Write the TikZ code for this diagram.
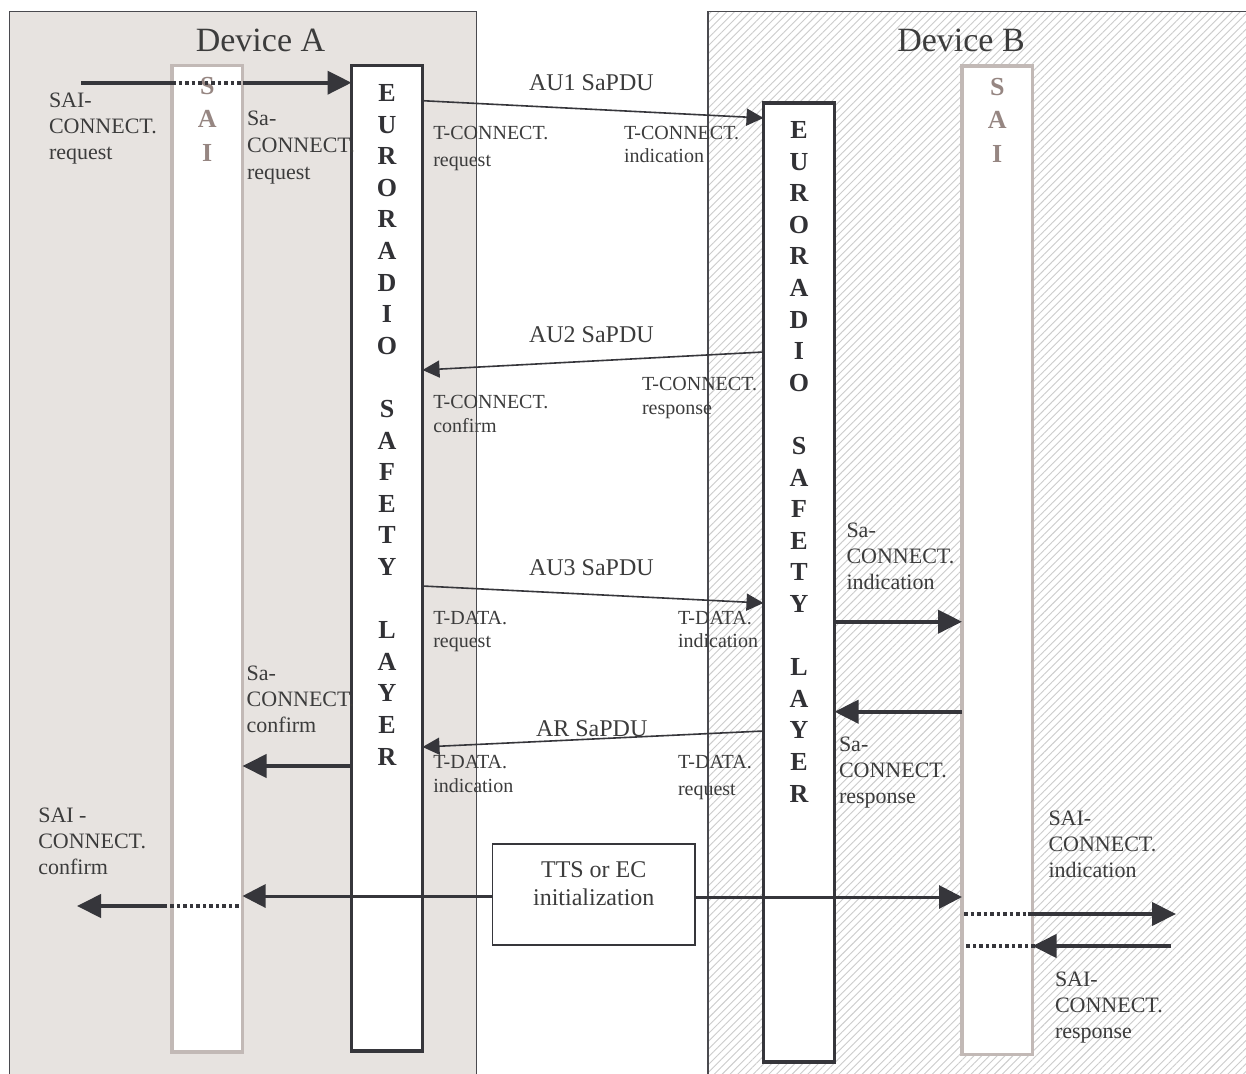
\documentclass[tikz,border=0pt]{standalone}
\usepackage{fontspec}
\setmainfont{Liberation Serif}
\usetikzlibrary{arrows.meta,patterns.meta,calc}
\definecolor{ink}{HTML}{36363B}
\definecolor{txt}{HTML}{3C3C3C}
\definecolor{devAfill}{HTML}{E7E3E0}
\definecolor{saiborder}{HTML}{C2B9B6}
\definecolor{saitext}{HTML}{968682}
\definecolor{hatchcol}{HTML}{CCCCCC}
\begin{document}
\begin{tikzpicture}[x=1pt,y=-1pt,
  every node/.style={inner sep=0pt, outer sep=0pt},
  device/.style={draw=ink!90, line width=1.4pt, anchor=north west},
  devtitle/.style={font=\fontsize{34}{40}\selectfont, text=txt, anchor=base},
  saibox/.style={draw=saiborder, line width=3.5pt, fill=white, anchor=north west, minimum width=70.5pt},
  erslbox/.style={draw=ink, line width=3.5pt, fill=white, anchor=north west, minimum width=71pt},
  ttsbox/.style={draw=ink, line width=1.6pt, fill=white, anchor=north west, minimum width=202.5pt, minimum height=101pt, font=\fontsize{24}{28}\selectfont, text=txt},
  ersltext/.style={font=\fontsize{26}{31.6}\selectfont\bfseries, text=ink!90!black, align=center, anchor=north},
  saitxt/.style={font=\fontsize{26}{33.5}\selectfont\bfseries, text=saitext, align=center, anchor=north},
  biglbl/.style={font=\fontsize{22}{26}\selectfont, text=txt, align=left, anchor=north west},
  smalllbl/.style={font=\fontsize{20}{#1}\selectfont, text=txt, align=left, anchor=north west},
  smalllbl/.default=23.5,
  pdulbl/.style={font=\fontsize{24}{28}\selectfont, text=txt, anchor=base west},
  thinarr/.style={draw=ink, line width=1.6pt, -{Triangle[length=17pt,width=17pt]}},
  thickarr/.style={draw=ink, line width=4pt, -{Triangle[length=24pt,width=23pt]}},
  thickline/.style={draw=ink, line width=4pt},
  midarr/.style={draw=ink, line width=3pt, -{Triangle[length=23pt,width=23pt]}},
  dotline/.style={draw=ink, line width=4pt, dash pattern=on 3.5pt off 3pt}
]
\useasboundingbox (0,0) rectangle (1246,1073);
\fill[white] (0,0) rectangle (1246,1073);
\begin{scope}
\clip (0,0) rectangle (1246,1073);
% devices
\node[device, fill=devAfill, minimum width=467pt, minimum height=1090pt] (devA) at (9.5,11.5) {};
\node[device, pattern={Lines[angle=45,distance=5.5pt,line width=0.9pt]}, pattern color=hatchcol, minimum width=560pt, minimum height=1090pt] (devB) at (708,11.5) {};
\node[devtitle] at (260.5,51.7) {Device A};
\node[devtitle] at (961,52) {Device B};

% columns
\node[saibox, minimum height=986.5pt] (saiA) at (172,65.5) {};
\node[erslbox, minimum height=985.5pt] (erslA) at (351.5,65.5) {};
\node[erslbox, minimum height=959pt] (erslB) at (763.5,103) {};
\node[saibox, minimum height=988.5pt] (saiB) at (962,66) {};

\node[saitxt] at (saiA.north |- 0,77) {S\\A\\I};
\node[saitxt] at (saiB.north |- 0,78) {S\\A\\I};
\node[ersltext] at (erslA.north |- 0,84.5) {E\\U\\R\\O\\R\\A\\D\\I\\O\\[31.6pt]S\\A\\F\\E\\T\\Y\\[31.6pt]L\\A\\Y\\E\\R};
\node[ersltext] at (erslB.north |- 0,121.5) {E\\U\\R\\O\\R\\A\\D\\I\\O\\[31.6pt]S\\A\\F\\E\\T\\Y\\[31.6pt]L\\A\\Y\\E\\R};

% TTS box
\node[ttsbox] (tts) at (492.5,844) {\raisebox{2pt}[0pt][0pt]{\begin{tabular}{@{}c@{}}TTS or EC\\initialization\end{tabular}}};

% free ends
\coordinate (inA) at (81,82.7);
\coordinate (outA) at (77,906);
\coordinate (outB) at (1176,914);
\coordinate (inB) at (1171,946);

% SAI-CONNECT.request
\draw[thickline] (inA) -- (saiA.west |- inA);
\draw[dotline] (saiA.west |- inA) -- (saiA.east |- inA);
\draw[thickarr] (saiA.east |- inA) -- (erslA.west |- inA);

% SaPDUs
\draw[thinarr] (erslA.east |- 0,100.7) -- (erslB.west |- 0,118);
\draw[thinarr] (erslB.west |- 0,352) -- (erslA.east |- 0,370);
\draw[thinarr] (erslA.east |- 0,586) -- (erslB.west |- 0,603);
\draw[thinarr] (erslB.west |- 0,731) -- (erslA.east |- 0,747);

% Sa primitives
\draw[thickarr] (erslA.west |- 0,766) -- (saiA.east |- 0,766);
\draw[thickarr] (erslB.east |- 0,621.7) -- (saiB.west |- 0,621.7);
\draw[thickarr] (saiB.west |- 0,711.7) -- (erslB.east |- 0,711.7);

% TTS initialisation
\draw[midarr] (tts.west |- 0,896) -- (saiA.east |- 0,896);
\draw[midarr] (tts.east |- 0,897) -- (saiB.west |- 0,897);

% SAI-CONNECT.confirm (A)
\draw[dotline] ($(saiA.east |- outA)+(-4,0)$) -- ($(saiA.west |- outA)+(-3,0)$);
\draw[thickarr] ($(saiA.west |- outA)+(-5,0)$) -- (outA);

% SAI-CONNECT.indication / response (B)
\draw[dotline] ($(saiB.west |- outB)+(2,0)$) -- ($(saiB.east |- outB)+(-4,0)$);
\draw[thickarr] ($(saiB.east |- outB)+(-5,0)$) -- (outB);
\draw[thickarr] (inB) -- (saiB.east |- inB);
\draw[dotline] ($(saiB.east |- inB)+(2,0)$) -- ($(saiB.west |- inB)+(3,0)$);

% labels
\node[biglbl] at (49,93.1) {SAI-\\CONNECT.\\request};
\node[biglbl, font=\fontsize{22}{27}\selectfont] at (247,111) {Sa-\\CONNECT.\\request};
\node[biglbl] at (846.5,522.6) {Sa-\\CONNECT.\\indication};
\node[biglbl] at (839,737.3) {Sa-\\CONNECT.\\response};
\node[biglbl] at (246.7,665.8) {Sa-\\CONNECT.\\confirm};
\node[biglbl] at (38.3,807.8) {SAI -\\CONNECT.\\confirm};
\node[biglbl] at (1048.5,810.8) {SAI-\\CONNECT.\\indication};
\node[biglbl] at (1055,972.3) {SAI-\\CONNECT.\\response};

\node[smalllbl=26.5] at (433.3,126.5) {T-CONNECT.\\request};
\node[smalllbl=23] at (624,126.5) {T-CONNECT.\\indication};
\node[smalllbl] at (433.3,395.5) {T-CONNECT.\\confirm};
\node[smalllbl=24.5] at (642,376.8) {T-CONNECT.\\response};
\node[smalllbl] at (433.3,611) {T-DATA.\\request};
\node[smalllbl] at (678,611) {T-DATA.\\indication};
\node[smalllbl] at (433.3,755.5) {T-DATA.\\indication};
\node[smalllbl=27] at (678,755.5) {T-DATA.\\request};

\node[pdulbl] at (529,90) {AU1 SaPDU};
\node[pdulbl] at (529,342.2) {AU2 SaPDU};
\node[pdulbl] at (529,575.5) {AU3 SaPDU};
\node[pdulbl] at (536,736.5) {AR SaPDU};
\end{scope}
\end{tikzpicture}
\end{document}
